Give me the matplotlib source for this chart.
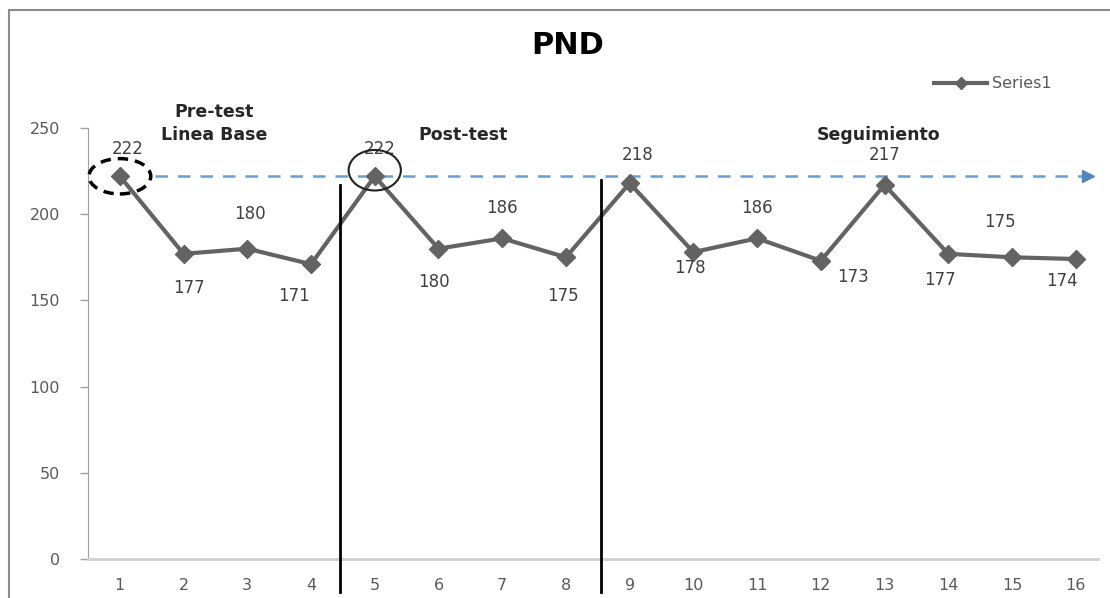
import matplotlib
matplotlib.use('Agg')
from matplotlib import pyplot as plt
from matplotlib.patches import Ellipse, Rectangle

# data
sessions = list(range(1, 17))
pnd = [222, 177, 180, 171, 222, 180, 186, 175, 218, 178, 186, 173, 217, 177, 175, 174]
y_ticks = [0, 50, 100, 150, 200, 250]

# label offsets in pixels (dx, dy) relative to each point
label_offsets = [(8, 27), (5, -34), (3, 35), (-17, -32), (5, 27), (-5, -33), (0, 30), (-3, -39),
                 (8, 28), (-3, -16), (0, 30), (32, -16), (0, 30), (-8, -26), (-12, 35), (-14, -22)]

phases = [(2.48, 'Pre-test\nLinea Base'), (6.38, 'Post-test'), (12.9, 'Seguimiento')]

grey = '#595959'

fig = plt.figure(figsize=(11.1, 5.98), dpi=100)
ax = fig.add_axes([88/1110, 1-559/598, (1098-88)/1110, (559-128)/598])

ax.plot(sessions, pnd, color='#636363', lw=3, marker='D', ms=9, label='Series1', zorder=3)

for x, y, (dx, dy) in zip(sessions, pnd, label_offsets):
    ax.annotate(str(y), (x, y), xytext=(dx, dy), textcoords='offset pixels',
                ha='center', va='center', fontsize=12, color='#404040')

# baseline reference arrow at the first value
ax.plot([1.55, 16.15], [pnd[0], pnd[0]], color='#6a9ed0', lw=1.8, ls=(0, (5, 4)), clip_on=False, zorder=2)
ax.plot([16.2], [pnd[0]], marker='>', color='#4f86c0', ms=8, clip_on=False, zorder=2)

# circled points
ax.add_patch(Ellipse((1, 222), 0.97, 20.5, fill=False, ec='black', lw=2.5, ls=(0, (3, 2)), clip_on=False, zorder=4))
ax.add_patch(Ellipse((5, 225.5), 0.82, 23.5, fill=False, ec='#222222', lw=1.5, clip_on=False, zorder=4))

# phase separators
ax.plot([4.45, 4.45], [-19, 217], color='black', lw=2, clip_on=False, zorder=4)
ax.plot([8.55, 8.55], [-19, 220], color='black', lw=2, clip_on=False, zorder=4)

for x, txt in phases:
    ax.text(x, 241, txt, ha='center', va='bottom', fontsize=12.5, fontweight='bold',
            color='#262626', linespacing=1.35)

ax.set_xlim(0.5, 16.35)
ax.set_ylim(0, 250)
ax.set_xticks(sessions)
ax.set_yticks(y_ticks)
ax.tick_params(axis='x', length=0, pad=14, labelsize=11.5, labelcolor=grey)
ax.tick_params(axis='y', length=6, width=1, color='#a0a0a0', pad=14, labelsize=11.5, labelcolor=grey)
for s in ['top', 'right']:
    ax.spines[s].set_visible(False)
ax.spines['left'].set_color('#a0a0a0')
ax.spines['bottom'].set_color('#d0d0d0')
ax.spines['bottom'].set_linewidth(2)

fig.text(568/1110, 1-45/598, 'PND', ha='center', va='center', fontsize=22, fontweight='bold')
fig.legend(loc='center left', bbox_to_anchor=(920/1110, 1-84/598), frameon=False,
           handlelength=3.3, fontsize=11.5, labelcolor=grey, markerscale=0.7, handletextpad=0.3)

fig.patches.append(Rectangle((9/1110, -0.05), 1.2, 1.05-10/598, transform=fig.transFigure,
                             fill=False, ec='#8c8c8c', lw=1.5))

fig.savefig('out.png', dpi=100)
